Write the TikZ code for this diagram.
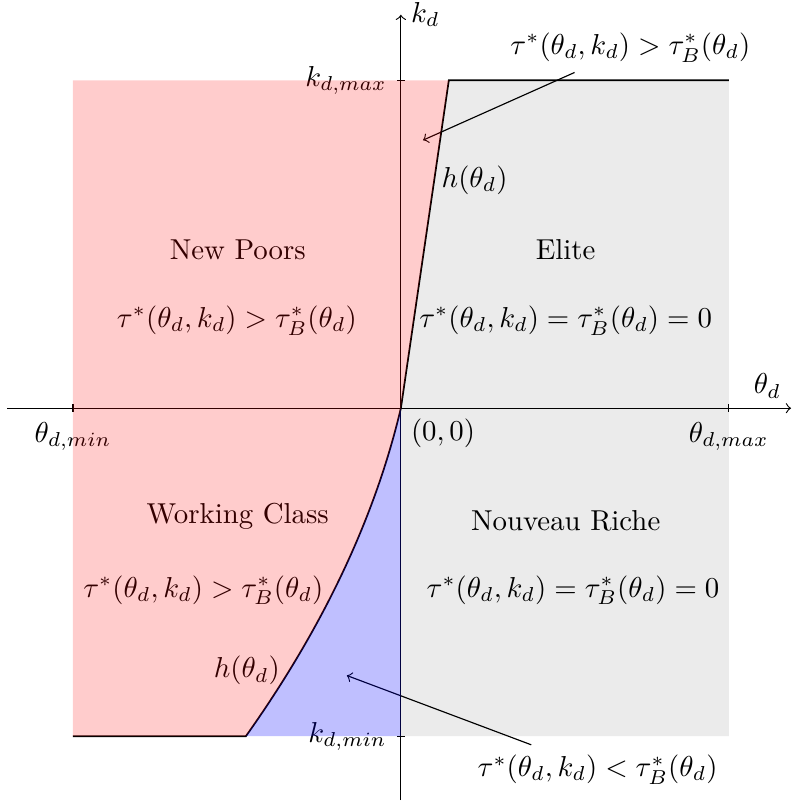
\documentclass[tikz,border=0pt]{standalone}
\begin{document}
\begin{tikzpicture}[x=10mm, y=10mm,
        >=to,   %Pfeilspitzen
        curve/.style={semithick},
        region/.style={fill opacity=#1, draw=none},
        note/.style={->, thin}]
        \useasboundingbox (-4.89,-4.84) rectangle (4.77,4.98);
        % Achsen zeichnen
        \draw[->] (-4.8,0) -- (4.76,0) node[above left] (thetad) {$\theta_d$};
        \draw[->] (0,-4.78) -- (0,4.8) node[right] (kd) {$k_d$};
        % Achsen beschriften
        \foreach \x/\n in {-4/min,4/max} \draw (\x,.05) -- (\x,-.05) node[below] (th\n) {$\theta_{d,\n}$};
        \foreach \y/\n in {-4/min,4/max} \draw (.05,\y) -- (-.05,\y) node[left] (k\n) {$k_{d,\n}$};
        \node[below right] (origin) at (0,0) {$(0,0)$};
        % Punkte der Kurve h
        \coordinate (O) at (0,0);
        \coordinate (hlo) at (-1.89,-4);
        \coordinate (hhi) at (0.585,4);
        % Kurve h zeichnen
        \draw[curve] (-4,-4) -- (hlo) .. controls (-0.944,-2.667) and (-0.315,-1.333) .. (O) -- (hhi) -- (4,4);
        % Bereiche beschriften
        \node (newpoors) at (-1.99,1.93) {New Poors};
        \node (tauNP) at (-2.0,1.07) {$\tau^*(\theta_d,k_d) > \tau^*_B(\theta_d)$};
        \node (elite) at (2.01,1.93) {Elite};
        \node (tauEL) at (2.01,1.07) {$\tau^*(\theta_d,k_d) = \tau^*_B(\theta_d) = 0$};
        \node (hup) at (0.90,2.78) {$h(\theta_d)$};
        \node (working) at (-1.99,-1.32) {Working Class};
        \node (tauWC) at (-2.41,-2.22) {$\tau^*(\theta_d,k_d) > \tau^*_B(\theta_d)$};
        \node (nouveau) at (2.01,-1.37) {Nouveau Riche};
        \node (tauNR) at (2.10,-2.22) {$\tau^*(\theta_d,k_d) = \tau^*_B(\theta_d) = 0$};
        \node (hlow) at (-1.88,-3.20) {$h(\theta_d)$};
        % Hinweise mit Pfeil
        \node (topnote) at (2.80,4.40) {$\tau^*(\theta_d,k_d) > \tau^*_B(\theta_d)$};
        \node (botnote) at (2.40,-4.41) {$\tau^*(\theta_d,k_d) < \tau^*_B(\theta_d)$};
        \coordinate (tipNP) at (0.27,3.27);
        \coordinate (tipBL) at (-0.66,-3.26);
        \draw[note] (topnote) -- (tipNP);
        \draw[note] (botnote) -- (tipBL);
        % Bereiche fuellen
        \fill[region=0.2, fill=red] (-4,-4) -- (hlo) .. controls (-0.944,-2.667) and (-0.315,-1.333) .. (O) -- (hhi) -- (-4,4) -- cycle;
        \fill[region=0.25, fill=blue] (hlo) .. controls (-0.944,-2.667) and (-0.315,-1.333) .. (O) -- (0,-4) -- cycle;
        \fill[region=0.08, fill=black] (O) -- (hhi) -- (4,4) -- (4,-4) -- (0,-4) -- cycle;
    \end{tikzpicture}
\end{document}
